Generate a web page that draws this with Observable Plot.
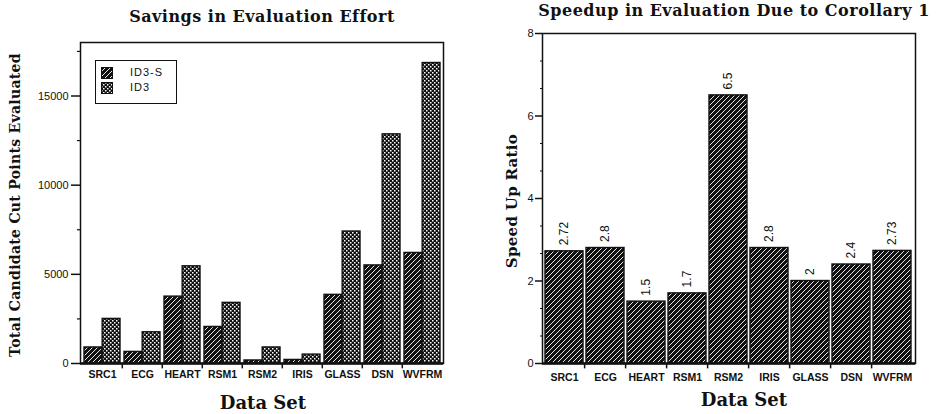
<!DOCTYPE html>
<html>
<head>
<meta charset="utf-8">
<script src="https://cdn.jsdelivr.net/npm/d3@7"></script>
<script src="https://cdn.jsdelivr.net/npm/@observablehq/plot@0.6"></script>
<style>
  body { margin: 0; background: #fff; }
  #root { position: relative; width: 943px; height: 414px; overflow: hidden; background: #fff; }
  .abs { position: absolute; white-space: nowrap; color: #111; }
  .title { font-family: "DejaVu Serif", "Liberation Serif", serif; font-weight: bold; font-size: 16px; letter-spacing: 0.5px; transform: translate(-50%, -50%); }
  .ylab { font-family: "DejaVu Serif", "Liberation Serif", serif; font-weight: bold; font-size: 14px; letter-spacing: 0.3px; transform: translate(-50%, -50%) rotate(-90deg); }
  .xlab { font-family: "DejaVu Serif", "Liberation Serif", serif; font-weight: bold; font-size: 18px; transform: translate(-50%, -50%); }
  #legend { position: absolute; left: 95px; top: 60px; width: 82px; height: 44px; box-sizing: border-box; border: 1.5px solid #111; background: #fff; font-family: "Liberation Sans", Arial, sans-serif; font-size: 11px; letter-spacing: 1px; color: #111; }
  .lrow { position: absolute; left: 5px; height: 12px; width: 70px; }
  .lrow svg { position: absolute; left: 0; top: 0; }
  .lrow span { position: absolute; left: 29px; top: -1px; line-height: 13px; white-space: nowrap; }
</style>
</head>
<body>
<div id="root">
  <svg width="0" height="0" style="position:absolute;left:0;top:0">
    <defs>
      <pattern id="hatch" patternUnits="userSpaceOnUse" width="5" height="5">
        <rect width="5" height="5" fill="#111"/>
        <path d="M-1,1 L1,-1 M0,5 L5,0 M4,6 L6,4" stroke="#fff" stroke-width="0.9"/>
      </pattern>
      <pattern id="stipple" patternUnits="userSpaceOnUse" width="4" height="4">
        <rect width="4" height="4" fill="#111"/>
        <rect x="0" y="0" width="1.5" height="1.5" fill="#fff"/>
        <rect x="2" y="2" width="1.5" height="1.5" fill="#fff"/>
      </pattern>
    </defs>
  </svg>
  <div id="left" class="abs" style="left:0;top:0"></div>
  <div id="right" class="abs" style="left:470px;top:0"></div>
  <div class="abs title" style="left:262px;top:16px">Savings in Evaluation Effort</div>
  <div class="abs title" style="left:734px;top:10px">Speedup in Evaluation Due to Corollary 1</div>
  <div class="abs ylab" style="left:15px;top:205px">Total Candidate Cut Points Evaluated</div>
  <div class="abs ylab" style="left:512px;top:201px;font-size:15px">Speed Up Ratio</div>
  <div class="abs xlab" style="left:263px;top:402px">Data Set</div>
  <div class="abs xlab" style="left:744px;top:399px">Data Set</div>
  <div id="legend"></div>
</div>
<script>
// ---- data ----
const datasets = ["SRC1", "ECG", "HEART", "RSM1", "RSM2", "IRIS", "GLASS", "DSN", "WVFRM"];
const seriesNames = ["ID3-S", "ID3"];
const id3sValues = [900, 650, 3750, 2050, 170, 200, 3850, 5500, 6200];
const id3Values = [2500, 1750, 5450, 3400, 900, 500, 7400, 12850, 16850];
const speedupValues = [2.72, 2.8, 1.5, 1.7, 6.5, 2.8, 2, 2.4, 2.73];
const speedupLabels = ["2.72", "2.8", "1.5", "1.7", "6.5", "2.8", "2", "2.4", "2.73"];
const leftMajorTicks = [0, 5000, 10000, 15000];
const leftMinorTicks = [2500, 7500, 12500, 17500];
const rightMajorTicks = [0, 2, 4, 6, 8];
const rightMinorTicks = [2/3, 4/3, 8/3, 10/3, 14/3, 16/3, 20/3, 22/3];

const seriesFill = {"ID3-S": "url(#hatch)", "ID3": "url(#stipple)"};
const savingsRows = [];
datasets.forEach((d, i) => {
  savingsRows.push({dataset: d, series: "ID3-S", value: id3sValues[i]});
  savingsRows.push({dataset: d, series: "ID3", value: id3Values[i]});
});
const speedRows = datasets.map((d, i) => ({dataset: d, value: speedupValues[i], label: speedupLabels[i]}));

const sans = "'Liberation Sans', Arial, Helvetica, sans-serif";
const plain = d => String(d);
const hasAxis = typeof Plot.axisY === "function";

// ---- left chart ----
{
  const W = 470, H = 414, mL = 80, mR = 27, mT = 42, mB = 51;
  const pIn = 0.1, pOut = 0.04;
  const step = (W - mL - mR) / (datasets.length - pIn + 2 * pOut);
  const half = step * (1 - pIn) / 2;
  const marks = [
    Plot.barY(savingsRows.filter(r => r.series === "ID3-S"), {x: "dataset", y: "value", fill: d => seriesFill[d.series], stroke: "#111", strokeWidth: 1.4, insetRight: half}),
    Plot.barY(savingsRows.filter(r => r.series === "ID3"), {x: "dataset", y: "value", fill: d => seriesFill[d.series], stroke: "#111", strokeWidth: 1.4, insetLeft: half}),
    Plot.ruleX(datasets.slice(1), {x: d => d, y1: 0, y2: -300, dx: -step / 2, stroke: "#111", strokeWidth: 1.5}),
    Plot.frame({stroke: "#111", strokeWidth: 1.5}),
    Plot.ruleY([0], {stroke: "#111", strokeWidth: 2.5})
  ];
  if (hasAxis) {
    marks.push(
      Plot.axisY(leftMajorTicks, {tickSize: 9, tickPadding: 3, tickFormat: plain, fontSize: 11, fontFamily: sans, stroke: "#111", strokeWidth: 1.5, label: null}),
      Plot.axisY(leftMinorTicks, {tickSize: 3, tickFormat: () => "", stroke: "#111", strokeWidth: 1.2, label: null}),
      Plot.axisX({tickSize: 0, tickPadding: 7, fontSize: 10.5, fontWeight: "bold", fontFamily: sans, label: null})
    );
  }
  const chart = Plot.plot({
    width: W, height: H, marginLeft: mL, marginRight: mR, marginTop: mT, marginBottom: mB,
    style: {background: "transparent", color: "#111", fontFamily: sans, fontSize: "10px", overflow: "visible"},
    x: {domain: datasets, paddingInner: pIn, paddingOuter: pOut, label: null, tickSize: 0, tickPadding: 7},
    y: {domain: [0, 18000], ticks: leftMajorTicks, tickFormat: plain, tickSize: 9, label: null},
    marks
  });
  document.getElementById("left").append(chart);
}

// ---- right chart ----
{
  const W = 473, H = 414, mL = 72, mR = 28, mT = 33, mB = 51;
  const pIn = 0.07, pOut = 0.0;
  const marks = [
    Plot.barY(speedRows, {x: "dataset", y: "value", fill: "url(#hatch)", stroke: "#111", strokeWidth: 1.4}),
    Plot.text(speedRows, {x: "dataset", y: "value", text: "label", rotate: -90, textAnchor: "start", dy: -6, fontSize: 12, fontFamily: sans, fill: "#111"}),
    Plot.ruleX(datasets.slice(1), {x: d => d, y1: 0, y2: -0.13, dx: -((W - mL - mR) / (datasets.length - pIn)) / 2, stroke: "#111", strokeWidth: 1.5}),
    Plot.frame({stroke: "#111", strokeWidth: 1.5}),
    Plot.ruleY([0], {stroke: "#111", strokeWidth: 2.5})
  ];
  if (hasAxis) {
    marks.push(
      Plot.axisY(rightMajorTicks, {tickSize: 7, tickPadding: 2, tickFormat: plain, fontSize: 11, fontFamily: sans, stroke: "#111", strokeWidth: 1.5, label: null}),
      Plot.axisY(rightMinorTicks, {tickSize: 2, tickFormat: () => "", stroke: "#111", strokeWidth: 1.2, label: null}),
      Plot.axisX({tickSize: 0, tickPadding: 10, fontSize: 10.5, fontWeight: "bold", fontFamily: sans, label: null})
    );
  }
  const chart = Plot.plot({
    width: W, height: H, marginLeft: mL, marginRight: mR, marginTop: mT, marginBottom: mB,
    style: {background: "transparent", color: "#111", fontFamily: sans, fontSize: "11px", overflow: "visible"},
    x: {domain: datasets, paddingInner: pIn, paddingOuter: pOut, label: null, tickSize: 0, tickPadding: 10},
    y: {domain: [0, 8], ticks: rightMajorTicks, tickFormat: plain, tickSize: 7, label: null},
    marks
  });
  document.getElementById("right").append(chart);
}

// ---- legend (built from series names) ----
{
  const legend = document.getElementById("legend");
  seriesNames.forEach((name, i) => {
    const row = document.createElement("div");
    row.className = "lrow";
    row.style.top = (6 + i * 15) + "px";
    row.innerHTML = `<svg width="12" height="12"><rect x="0.5" y="0.5" width="11" height="11" fill="${seriesFill[name]}" stroke="#111" stroke-width="1"/></svg><span>${name}</span>`;
    legend.append(row);
  });
}
</script>
</body>
</html>
